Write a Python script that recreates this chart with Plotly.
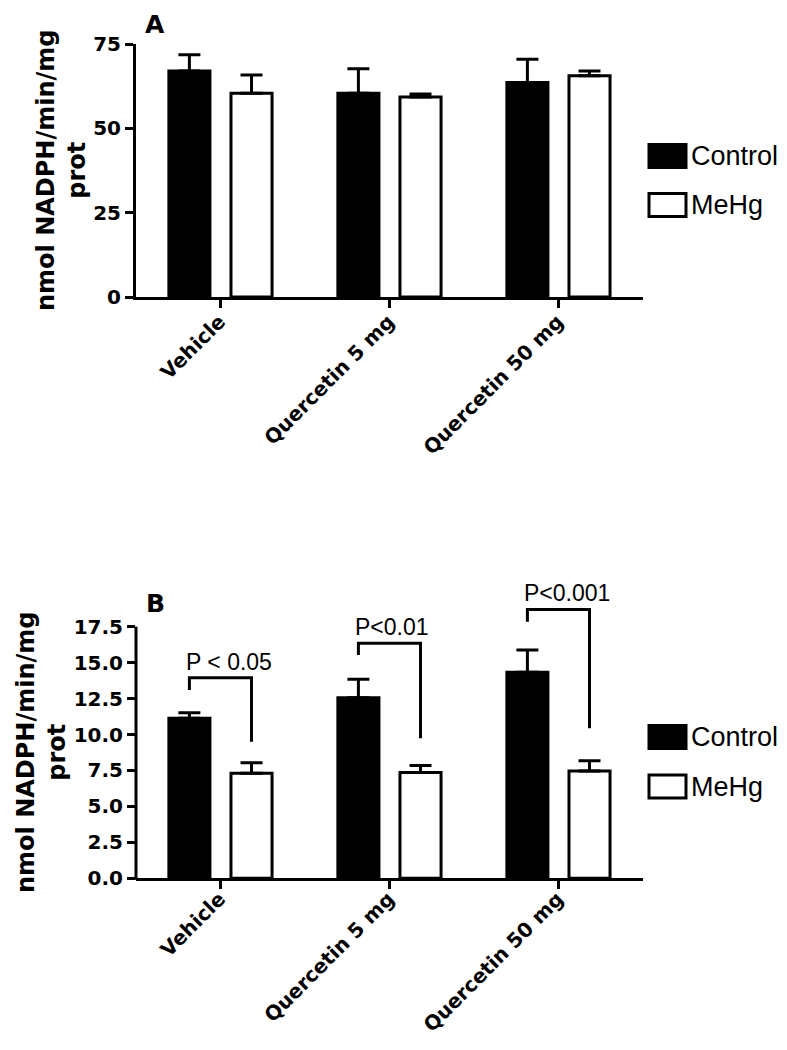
import plotly.graph_objects as go

# ---------------- data ----------------
categories = ["Vehicle", "Quercetin 5 mg", "Quercetin 50 mg"]
series_names = ["Control", "MeHg"]

# Panel A
a_control = [67.0, 60.4, 63.6]
a_control_err = [4.8, 7.3, 6.9]
a_mehg = [60.4, 59.3, 65.6]
a_mehg_err = [5.4, 0.9, 1.4]
a_ticks = [0, 25, 50, 75]

# Panel B
b_control = [11.13, 12.56, 14.33]
b_control_err = [0.39, 1.28, 1.55]
b_mehg = [7.30, 7.35, 7.46]
b_mehg_err = [0.74, 0.49, 0.72]
b_ticks = [0.0, 2.5, 5.0, 7.5, 10.0, 12.5, 15.0, 17.5]

# significance brackets (panel B)
sig_labels = ["P < 0.05", "P<0.01", "P<0.001"]
sig_top = [13.95, 16.34, 18.70]
sig_left_bottom = [13.10, 15.53, 17.84]
sig_right_bottom = [9.50, 9.74, 10.43]

y_title = "nmol NADPH/min/mg<br>prot"

# ---------------- styling / layout ----------------
# the page body has an 8px margin: the figure fills the rest of the 787x1050 window
PAGE_W, PAGE_H, OFF = 787, 1050, 8
W, H = PAGE_W - 2 * OFF, PAGE_H - 2 * OFF


def px(x):
    """page x pixel -> paper coordinate"""
    return (x - OFF) / W


def py(y):
    """page y pixel -> paper coordinate"""
    return 1 - (y - OFF) / H


BOLD = dict(family="DejaVu Sans", weight="bold", color="black")
REG = "Liberation Sans, Arial, sans-serif"

x_dom = [px(136), px(643)]
a_dom = [py(297), py(44)]
b_dom = [py(878.3), py(597.9)]
b_range_top = 19.5

bar_w = 0.243
off_ctrl = -0.3055
off_mehg = 0.062
ctr_ctrl = off_ctrl + bar_w / 2
ctr_mehg = off_mehg + bar_w / 2

fig = go.Figure()


def add_bars(ctrl, ctrl_err, mehg, mehg_err, xa, ya):
    fig.add_trace(go.Bar(
        x=categories, y=ctrl, name=series_names[0], xaxis=xa, yaxis=ya,
        width=bar_w, offset=off_ctrl,
        marker=dict(color="black", line=dict(color="black", width=3)),
        error_y=dict(type="data", symmetric=False, array=ctrl_err,
                     arrayminus=[0] * len(ctrl), color="black",
                     thickness=3, width=11),
        showlegend=False))
    fig.add_trace(go.Bar(
        x=categories, y=mehg, name=series_names[1], xaxis=xa, yaxis=ya,
        width=bar_w, offset=off_mehg,
        marker=dict(color="white", line=dict(color="black", width=3)),
        error_y=dict(type="data", symmetric=False, array=mehg_err,
                     arrayminus=[0] * len(mehg), color="black",
                     thickness=3, width=11),
        showlegend=False))


add_bars(a_control, a_control_err, a_mehg, a_mehg_err, "x", "y")
add_bars(b_control, b_control_err, b_mehg, b_mehg_err, "x2", "y2")

xaxis_common = dict(
    domain=x_dom, range=[-0.5, 2.5], type="category", automargin=False,
    showline=True, linecolor="black", linewidth=3,
    ticks="outside", ticklen=8, tickwidth=3, tickcolor="black",
    tickangle=-45, tickfont=dict(size=20, **BOLD),
    ticklabelshift=-1,
    showgrid=False, zeroline=False, fixedrange=True,
)
yaxis_common = dict(
    automargin=False,
    ticks="outside", ticklen=8, tickwidth=3, tickcolor="black",
    tickfont=dict(size=20, **BOLD),
    showgrid=False, zeroline=False,
)

fig.update_layout(
    width=W, height=H,
    margin=dict(l=0, r=0, t=0, b=0, autoexpand=False),
    paper_bgcolor="white", plot_bgcolor="white",
    barmode="overlay",
    xaxis=dict(anchor="y", ticklabelstandoff=-6, **xaxis_common),
    xaxis2=dict(anchor="y2", ticklabelstandoff=-10, **xaxis_common),
    yaxis=dict(domain=a_dom, anchor="x", range=[0, 75],
               tickvals=a_ticks, ticktext=[str(v) for v in a_ticks],
               showline=True, linecolor="black", linewidth=3,
               **yaxis_common),
    yaxis2=dict(domain=b_dom, anchor="x2", range=[0, b_range_top],
                tickvals=b_ticks, ticktext=[f"{v:.1f}" for v in b_ticks],
                showline=False, **yaxis_common),
    font=dict(family=REG, color="black"),
)

shapes = []
annotations = []

# y-axis line of panel B (only up to the last tick)
b_line_top = b_dom[0] + (max(b_ticks) / b_range_top) * (b_dom[1] - b_dom[0])
shapes.append(dict(type="line", xref="paper", yref="paper",
                   x0=x_dom[0], x1=x_dom[0], y0=b_dom[0] - 1.5 / H, y1=b_line_top,
                   line=dict(color="black", width=3)))

# significance brackets
for i, lab in enumerate(sig_labels):
    xl = i + ctr_ctrl
    xr = i + ctr_mehg
    path = (f"M {xl},{sig_left_bottom[i]} L {xl},{sig_top[i]} "
            f"L {xr},{sig_top[i]} L {xr},{sig_right_bottom[i]}")
    shapes.append(dict(type="path", xref="x2", yref="y2", path=path,
                       line=dict(color="black", width=3)))
    annotations.append(dict(xref="x2", yref="y2", x=xl, y=sig_top[i],
                            text=lab, showarrow=False, xanchor="left",
                            yanchor="bottom", xshift=-5, yshift=1,
                            font=dict(family=REG, size=23, color="black")))

# panel letters
for letter, yc in (("A", 24), ("B", 603)):
    annotations.append(dict(xref="paper", yref="paper", x=px(155), y=py(yc),
                            text=letter, showarrow=False, xanchor="center",
                            yanchor="middle", font=dict(size=25, **BOLD)))

# y axis titles
for xc, yc in ((61, 171), (41, 753)):
    annotations.append(dict(xref="paper", yref="paper", x=px(xc), y=py(yc),
                            text=y_title, showarrow=False, textangle=-90,
                            xanchor="center", yanchor="middle",
                            font=dict(size=24, **BOLD)))

# custom legends
legend_rows = {"A": [156, 205], "B": [737, 786.5]}
fills = ["black", "white"]
for key, rows in legend_rows.items():
    for name, yc, fill in zip(series_names, rows, fills):
        shapes.append(dict(type="rect", xref="paper", yref="paper",
                           x0=px(649), x1=px(686),
                           y0=py(yc + 11.5), y1=py(yc - 11.5),
                           fillcolor=fill, line=dict(color="black", width=3)))
        annotations.append(dict(xref="paper", yref="paper", x=px(689),
                                y=py(yc), text=name, showarrow=False,
                                xanchor="left", yanchor="middle",
                                font=dict(family=REG, size=27, color="black")))

fig.update_layout(shapes=shapes, annotations=annotations)

fig.write_html("out.html")
